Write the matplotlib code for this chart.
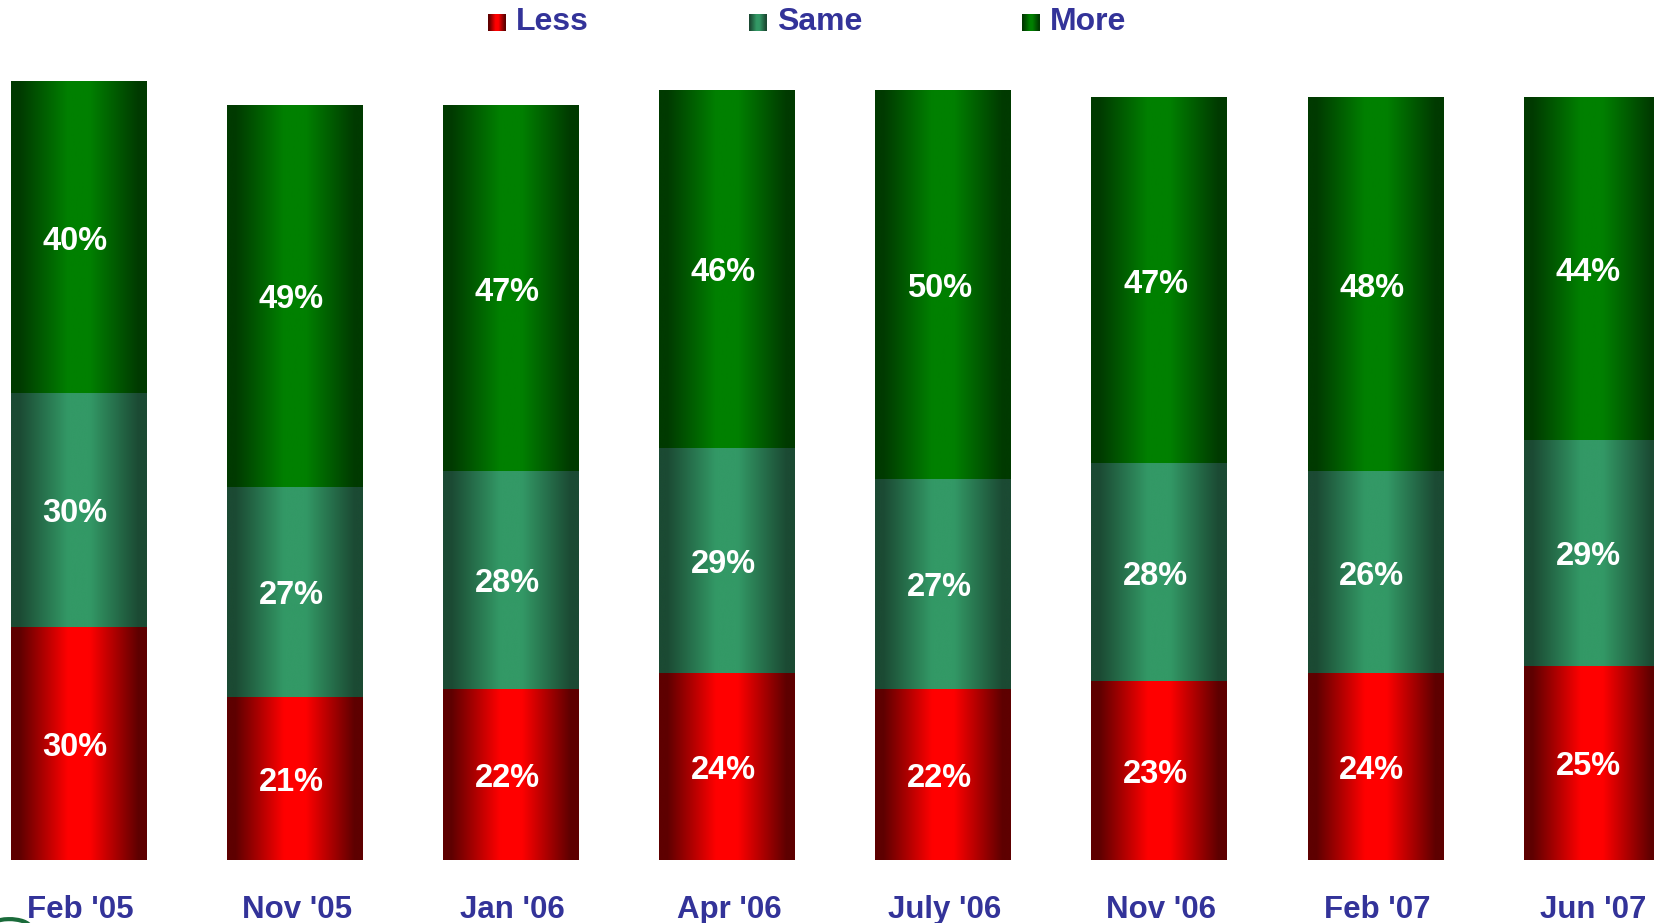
import matplotlib
matplotlib.use("Agg")
import matplotlib.pyplot as plt
import numpy as np
from matplotlib.colors import LinearSegmentedColormap
from matplotlib.patches import Arc

plt.rcParams["font.family"] = ["Liberation Sans", "DejaVu Sans"]

CATEGORIES = ["Feb '05", "Nov '05", "Jan '06", "Apr '06", "July '06", "Nov '06", "Feb '07", "Jun '07"]
LESS = [30, 21, 22, 24, 22, 23, 24, 25]
SAME = [30, 27, 28, 29, 27, 28, 26, 29]
MORE = [40, 49, 47, 46, 50, 47, 48, 44]
SERIES = ["Less", "Same", "More"]

TEXT_BLUE = "#333399"
# (edge colour, centre colour) for the horizontal shading of each series
SHADES = {
    "Less": ("#5e0000", "#ff0000"),
    "Same": ("#1b4a33", "#339966"),
    "More": ("#003a00", "#008000"),
}


def make_cmap(name):
    dark, bright = SHADES[name]
    return LinearSegmentedColormap.from_list(
        name, [(0.0, dark), (0.06, dark), (0.42, bright), (0.58, bright), (0.94, dark), (1.0, dark)])


W, H = 1654, 923
fig = plt.figure(figsize=(W / 100, H / 100), dpi=100)
ax = fig.add_axes([0, 0, 1, 1])
ax.axis("off")

pitch = 216.1       # px between bar centres
first = 78.5        # px centre of the first bar
base = 63           # px from bottom to zero line
per_pct = 7.78      # px per percentage point
width = 0.625

grad = np.linspace(0, 1, 256).reshape(1, -1)
cmaps = {s: make_cmap(s) for s in SERIES}

x = np.arange(len(CATEGORIES))
for i, cat in enumerate(CATEGORIES):
    bottom = 0
    for name, vals in zip(SERIES, [LESS, SAME, MORE]):
        v = vals[i]
        ax.imshow(grad, cmap=cmaps[name], aspect="auto", interpolation="bicubic",
                  extent=[x[i] - width / 2, x[i] + width / 2, bottom, bottom + v], zorder=2)
        ax.text(x[i] - 0.015, bottom + v / 2 - 0.5, f"{v}%", ha="center", va="center",
                color="white", fontsize=23.5, fontweight="bold", zorder=3)
        bottom += v
    ax.text(x[i] + 0.01, -7.45, cat, ha="center", va="baseline", color=TEXT_BLUE,
            fontsize=22.5, fontweight="bold", zorder=4)

ax.set_xlim(-first / pitch, (W - first) / pitch)
ax.set_ylim(-base / per_pct, (H - base) / per_pct)

# legend drawn by hand across the top
leg_x = [488, 749, 1022]
for name, lx in zip(SERIES, leg_x):
    lax = fig.add_axes([lx / W, 1 - 31 / H, 18 / W, 17 / H])
    lax.imshow(grad, cmap=cmaps[name], aspect="auto")
    lax.axis("off")
    fig.text((lx + 28) / W, 1 - 22 / H, name, ha="left", va="center",
             color=TEXT_BLUE, fontsize=23, fontweight="bold")

# fragment of a logo in the lower left corner
ax.add_patch(Arc((-0.32, -8.8), 0.2, 2.4, theta1=50, theta2=180, color="#1a6b3a",
                 lw=3, clip_on=False, zorder=1))

fig.savefig("out.png", dpi=100)
